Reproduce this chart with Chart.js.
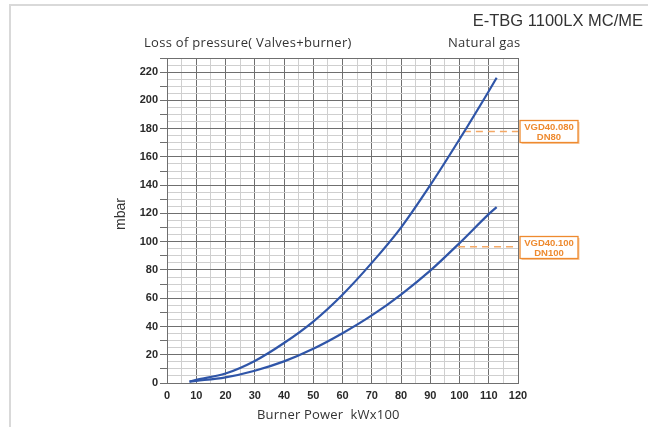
<!DOCTYPE html>
<html>
<head>
<meta charset="utf-8">
<script src="https://cdn.jsdelivr.net/npm/chart.js@4"></script>
<style>
  html, body { margin: 0; padding: 0; background: #fff; }
  #wrap { width: 648px; height: 427px; }
</style>
</head>
<body>
<div id="wrap"><canvas id="chart" width="648" height="427"></canvas></div>
<script>
// burner power (kW x 100) and pressure loss (mbar)
const POWER = [7.7, 10, 20, 30, 40, 50, 60, 70, 80, 90, 100, 110, 112.7];
const LOSS_DN80 = [1, 2.2, 6.7, 15.6, 28.3, 43.5, 62.5, 85, 110, 140, 172.5, 206.5, 216];
const LOSS_DN100 = [1, 1.5, 4, 8.7, 15.3, 24.2, 35.2, 47.8, 62.6, 79.5, 99, 119.5, 124.5];

// valve markers: label lines, level (mbar), power where the dashed line starts
const VALVE_LABELS = [["VGD40.080", "DN80"], ["VGD40.100", "DN100"]];
const VALVE_LEVELS = [178, 96.5];
const VALVE_START = [101.5, 99.5];

const X_MAX = 120;
const Y_MAX = 230;

const BLUE = "#2f55a8";
const ORANGE = "#ee8a2f";
const DARK_GRID = "#6f6f6f";
const LIGHT_GRID = "#cfcfcf";
const TICK_FONT = { family: "'Liberation Sans Narrow', 'Arial Narrow', 'Liberation Sans', Arial", size: 11, weight: "bold" };

function pts(xs, ys) {
  return xs.map((x, i) => ({ x, y: ys[i] }));
}

const curveDatasets = [LOSS_DN80, LOSS_DN100].map(ys => ({
  data: pts(POWER, ys),
  borderColor: BLUE,
  borderWidth: 2.2,
  pointRadius: 0,
  cubicInterpolationMode: "monotone",
  fill: false
}));

const valveDatasets = VALVE_LEVELS.map((lvl, i) => ({
  data: [{ x: VALVE_START[i], y: lvl }, { x: X_MAX, y: lvl }],
  borderColor: "#f4a865",
  borderWidth: 1.5,
  borderDash: [7, 5],
  pointRadius: 0,
  fill: false
}));

const decor = {
  id: "decor",
  beforeDraw(chart) {
    const c = chart.ctx;
    c.save();
    c.strokeStyle = "#d9d9d9";
    c.lineWidth = 2;
    c.beginPath();
    c.moveTo(648, 5);
    c.lineTo(10, 5);
    c.lineTo(10, 427);
    c.stroke();
    c.restore();
  },
  afterDraw(chart) {
    const c = chart.ctx;
    const y = chart.scales.y;
    const area = chart.chartArea;
    c.save();
    c.fillStyle = "#333";
    c.textBaseline = "alphabetic";

    c.font = "16.5px 'Liberation Sans', Arial";
    c.textAlign = "right";
    c.fillText("E-TBG 1100LX MC/ME", 643, 26);

    c.font = "13px 'Open Sans'";
    c.textAlign = "left";
    c.letterSpacing = "0.3px";
    c.fillText("Loss of pressure( Valves+burner)", 144, 47);
    c.fillText("Natural gas", 448, 47);

    c.letterSpacing = "0.2px";
    c.fillText("Burner Power  kWx100", 257, 419);
    c.letterSpacing = "0px";

    c.save();
    c.translate(125, 214);
    c.rotate(-Math.PI / 2);
    c.textAlign = "center";
    c.font = "14px 'Liberation Sans', Arial";
    c.fillText("mbar", 0, 0);
    c.restore();

    // valve boxes to the right of the plot
    VALVE_LEVELS.forEach((lvl, i) => {
      const cy = y.getPixelForValue(lvl);
      const bx = area.right + 2, bw = 58, bh = 22;
      const by = Math.round(cy - bh / 2) + 0.5;
      c.fillStyle = "#f7c9a0";
      c.fillRect(bx + 1.5, by + 1.5, bw, bh);
      c.fillStyle = "#fff";
      c.fillRect(bx, by, bw, bh);
      c.strokeStyle = ORANGE;
      c.lineWidth = 1.3;
      c.strokeRect(bx, by, bw, bh);
      c.fillStyle = ORANGE;
      c.font = "bold 9.5px 'Liberation Sans', Arial";
      c.textAlign = "center";
      c.fillText(VALVE_LABELS[i][0], bx + bw / 2, by + 9.5);
      c.fillText(VALVE_LABELS[i][1], bx + bw / 2, by + 19.5);
    });
    c.restore();
  }
};

new Chart(document.getElementById("chart"), {
  type: "line",
  data: { datasets: curveDatasets.concat(valveDatasets) },
  options: {
    responsive: false,
    devicePixelRatio: 1,
    animation: false,
    layout: { padding: { left: 0, right: 130, top: 58, bottom: 0 } },
    plugins: { legend: { display: false }, tooltip: { enabled: false } },
    scales: {
      x: {
        type: "linear",
        min: 0,
        max: X_MAX,
        afterFit: s => { s.height = 44; },
        border: { color: DARK_GRID, width: 1 },
        grid: {
          drawTicks: false,
          color: ctx => (ctx.tick.value % 10 === 0 ? DARK_GRID : LIGHT_GRID)
        },
        ticks: {
          stepSize: 5,
          autoSkip: false,
          maxRotation: 0,
          padding: 6,
          color: "#2a2a2a",
          font: TICK_FONT,
          callback: v => (v % 10 === 0 ? String(v) : "")
        }
      },
      y: {
        type: "linear",
        min: 0,
        max: Y_MAX,
        afterFit: s => { s.width = 167; },
        border: { color: DARK_GRID, width: 1 },
        grid: {
          tickLength: 7,
          color: ctx => (ctx.tick.value % 20 === 0 || ctx.tick.value === Y_MAX ? DARK_GRID : LIGHT_GRID),
          tickColor: ctx => (ctx.tick.value % 10 === 0 ? DARK_GRID : "rgba(0,0,0,0)")
        },
        ticks: {
          stepSize: 5,
          autoSkip: false,
          padding: 2,
          color: "#2a2a2a",
          font: TICK_FONT,
          callback: v => (v % 20 === 0 ? String(v) : "")
        }
      }
    }
  },
  plugins: [decor]
});
</script>
</body>
</html>
